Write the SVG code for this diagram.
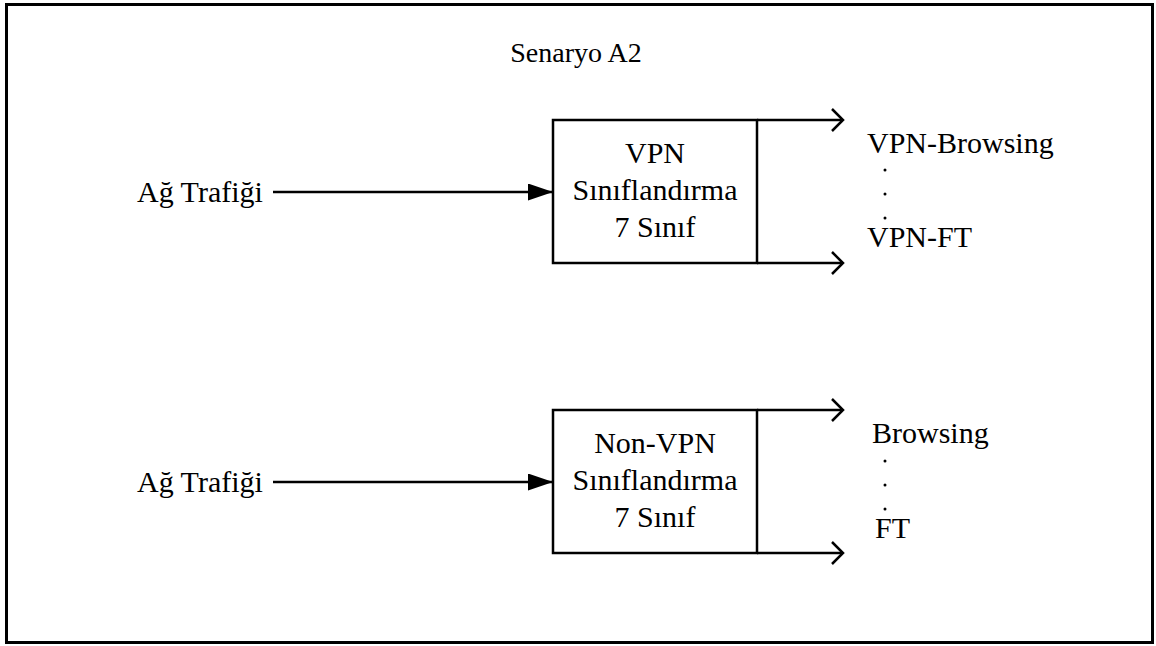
<svg xmlns="http://www.w3.org/2000/svg" width="1156" height="646" viewBox="0 0 1156 646">
  <style>
    .lbl { font-family: "Liberation Serif", "Times New Roman", serif; font-size: 30px; fill: #000; }
    .title { font-size: 28px; }
    .mid { text-anchor: middle; }
    .ln { stroke: #000; stroke-width: 2.5; fill: none; }
    .box { stroke: #000; stroke-width: 2.5; fill: #fff; }
    .dot { fill: #000; }
  </style>
  <defs>
    <marker id="solid" viewBox="0 0 25 17" refX="25" refY="8.5" markerWidth="25" markerHeight="17" markerUnits="userSpaceOnUse" orient="auto">
      <path d="M0,0 L25,8.5 L0,17 Z" fill="#000"/>
    </marker>
    <marker id="open" viewBox="0 0 14 24" refX="12" refY="12" markerWidth="14" markerHeight="24" markerUnits="userSpaceOnUse" orient="auto">
      <path d="M1,1 L12,12 L1,23" fill="none" stroke="#000" stroke-width="2.5"/>
    </marker>
  </defs>

  <rect x="0" y="0" width="1156" height="646" fill="#fff"/>
  <!-- outer frame -->
  <rect x="6.5" y="4.5" width="1146" height="638" fill="none" stroke="#000" stroke-width="3"/>

  <text class="lbl title mid" x="576" y="62">Senaryo A2</text>

  <!-- connectors -->
  <g id="connectors">
    <line class="ln" x1="273" y1="192" x2="553" y2="192" marker-end="url(#solid)"/>
    <line class="ln" x1="757" y1="120" x2="843" y2="120" marker-end="url(#open)"/>
    <line class="ln" x1="757" y1="263" x2="843" y2="263" marker-end="url(#open)"/>
    <line class="ln" x1="273" y1="482" x2="553" y2="482" marker-end="url(#solid)"/>
    <line class="ln" x1="757" y1="410" x2="843" y2="410" marker-end="url(#open)"/>
    <line class="ln" x1="757" y1="553" x2="843" y2="553" marker-end="url(#open)"/>
  </g>

  <g id="input-vpn">
    <text class="lbl" x="137" y="202">Ağ Trafiği</text>
  </g>
  <g id="input-nonvpn">
    <text class="lbl" x="137" y="492">Ağ Trafiği</text>
  </g>

  <g id="classifier-vpn">
    <rect class="box" x="553" y="120" width="204" height="143"/>
    <text class="lbl mid" x="655" y="163">VPN</text>
    <text class="lbl mid" x="655" y="200">Sınıflandırma</text>
    <text class="lbl mid" x="655" y="237">7 Sınıf</text>
  </g>

  <g id="classifier-nonvpn">
    <rect class="box" x="553" y="410" width="204" height="143"/>
    <text class="lbl mid" x="655" y="453">Non-VPN</text>
    <text class="lbl mid" x="655" y="490">Sınıflandırma</text>
    <text class="lbl mid" x="655" y="527">7 Sınıf</text>
  </g>

  <g id="outputs-vpn">
    <text class="lbl" x="867" y="153">VPN-Browsing</text>
    <circle class="dot" cx="885" cy="170" r="1.5"/>
    <circle class="dot" cx="885" cy="194" r="1.5"/>
    <circle class="dot" cx="885" cy="218" r="1.5"/>
    <text class="lbl" x="867" y="247">VPN-FT</text>
  </g>

  <g id="outputs-nonvpn">
    <text class="lbl" x="872" y="443">Browsing</text>
    <circle class="dot" cx="885" cy="461" r="1.5"/>
    <circle class="dot" cx="885" cy="485" r="1.5"/>
    <circle class="dot" cx="885" cy="509" r="1.5"/>
    <text class="lbl" x="875" y="538">FT</text>
  </g>
</svg>
